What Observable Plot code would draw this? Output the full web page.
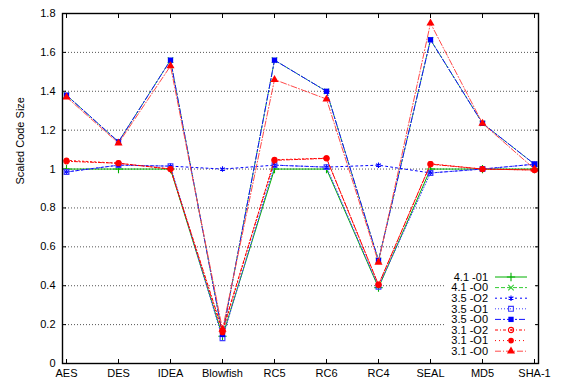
<!DOCTYPE html>
<html>
<head>
<meta charset="utf-8">
<script src="https://cdn.jsdelivr.net/npm/d3@7"></script>
<script src="https://cdn.jsdelivr.net/npm/@observablehq/plot@0.6"></script>
<style>
  html, body { margin: 0; padding: 0; background: white; }
  svg { display: block; }
</style>
</head>
<body>
<div id="chart"></div>
<script>
const categories = ["AES", "DES", "IDEA", "Blowfish", "RC5", "RC6", "RC4", "SEAL", "MD5", "SHA-1"];
const yTicks = [0, 0.2, 0.4, 0.6, 0.8, 1, 1.2, 1.4, 1.6, 1.8];
const seriesNames = ["4.1 -01", "4.1 -O0", "3.5 -O2", "3.5 -O1", "3.5 -O0", "3.1 -O2", "3.1 -O1", "3.1 -O0"];

const gcc41_O1 = [1.00, 1.00, 1.00, 0.14, 1.00, 1.00, 0.39, 1.00, 1.00, 1.00];
const gcc41_O0 = [1.38, 1.14, 1.56, 0.15, 1.56, 1.40, 0.53, 1.665, 1.235, 1.025];
const gcc35_O2 = [0.985, 1.02, 1.015, 1.00, 1.02, 1.01, 1.02, 0.98, 1.00, 1.025];
const gcc35_O1 = [0.985, 1.02, 1.015, 0.13, 1.02, 1.01, 0.395, 0.98, 1.00, 1.025];
const gcc35_O0 = [1.38, 1.14, 1.56, 0.15, 1.56, 1.40, 0.53, 1.665, 1.235, 1.025];
const gcc31_O2 = [1.04, 1.03, 1.00, 0.17, 1.045, 1.055, 0.405, 1.025, 1.00, 0.995];
const gcc31_O1 = [1.045, 1.03, 1.00, 0.16, 1.048, 1.056, 0.405, 1.027, 1.00, 0.995];
const gcc31_O0 = [1.37, 1.133, 1.53, 0.175, 1.46, 1.36, 0.52, 1.75, 1.235, 1.00];

const seriesValues = [gcc41_O1, gcc41_O0, gcc35_O2, gcc35_O1, gcc35_O0, gcc31_O2, gcc31_O1, gcc31_O0];

const styles = [
  {color: "#00b000", dash: null, symbol: "plus", fill: "none", r: 2.8},
  {color: "#33cc33", dash: "4,2", symbol: "times", fill: "none", r: 2.6},
  {color: "#0000ff", dash: "2,3", symbol: "asterisk", fill: "none", r: 2.6},
  {color: "#3d3dff", dash: "1,2", symbol: "square", fill: "none", r: 2.7},
  {color: "#1010ff", dash: "6,2,2,2", symbol: "square", fill: "#0000ff", r: 3.0},
  {color: "#ff0000", dash: "3,2,1,2", symbol: "circle", fill: "none", r: 2.6, dotInside: true},
  {color: "#ff0000", dash: "1,3", symbol: "circle", fill: "#ff0000", r: 2.9},
  {color: "#ff4a4a", dash: "6,2,1,2", symbol: "triangle", fill: "#ff0000", r: 3.0}
];

const fmt = d => String(Math.round(d * 10) / 10);

const marks = [
  Plot.ruleY(yTicks.filter(d => d > 0 && d < 1.8), {stroke: "#555", strokeDasharray: "1,2", strokeWidth: 1}),
  Plot.axisY(yTicks, {anchor: "left", tickSize: 0, tickPadding: 7, tickFormat: fmt, fontSize: 11, label: null}),
  Plot.axisY(yTicks, {anchor: "left", tickSize: -4, tickFormat: () => "", label: null}),
  Plot.axisY(yTicks, {anchor: "right", tickSize: -4, tickFormat: () => "", label: null}),
  Plot.axisX(categories, {anchor: "bottom", tickSize: 0, tickPadding: 6, fontSize: 11, label: null}),
  Plot.axisX(categories, {anchor: "bottom", tickSize: -4, tickFormat: () => "", label: null}),
  Plot.axisX(categories, {anchor: "top", tickSize: -4, tickFormat: () => "", label: null}),
  Plot.text(["Scaled Code Size"], {frameAnchor: "left", rotate: -90, dx: -42, dy: -4, fontSize: 11})
];

seriesValues.forEach((vals, i) => {
  const s = styles[i];
  const data = categories.map((c, j) => ({cat: c, v: vals[j]}));
  marks.push(Plot.line(data, {x: "cat", y: "v", stroke: s.color, strokeWidth: 1, strokeDasharray: s.dash}));
  if (s.fill === "none") {
    marks.push(Plot.dot(data, {x: "cat", y: "v", symbol: s.symbol, r: s.r, stroke: s.color, fill: "none", strokeWidth: 1.1}));
  } else {
    marks.push(Plot.dot(data, {x: "cat", y: "v", symbol: s.symbol, r: s.r, fill: s.fill, stroke: "none"}));
  }
  if (s.dotInside) {
    marks.push(Plot.dot(data, {x: "cat", y: "v", r: 0.9, fill: s.color}));
  }
});

marks.push(Plot.frame({stroke: "black", strokeWidth: 1.4}));

const chart = Plot.plot({
  width: 562,
  height: 381,
  marginLeft: 62,
  marginRight: 24,
  marginTop: 13,
  marginBottom: 18,
  style: {fontFamily: "'Liberation Sans', Arial, sans-serif", fontSize: "11px", background: "white", color: "black"},
  x: {type: "point", domain: categories, padding: 0, axis: null, label: null},
  y: {domain: [0, 1.8], axis: null, label: null},
  marks
});

document.getElementById("chart").appendChild(chart);

// legend inside plot area (bottom right)
const svg = d3.select(chart);
const lg = svg.append("g").attr("font-family", "'Liberation Sans', Arial, sans-serif").attr("font-size", 11);
lg.append("rect").attr("x", 446).attr("y", 271).attr("width", 88).attr("height", 87).attr("fill", "white");
const symMap = {plus: d3.symbolPlus, times: d3.symbolTimes, asterisk: d3.symbolAsterisk, square: d3.symbolSquare, circle: d3.symbolCircle, triangle: d3.symbolTriangle};
seriesNames.forEach((name, i) => {
  const s = styles[i];
  const y = 277 + i * 10.6;
  lg.append("text").attr("x", 488).attr("y", y).attr("dy", "0.35em").attr("text-anchor", "end").attr("fill", "black").text(name);
  lg.append("line").attr("x1", 495).attr("x2", 527).attr("y1", y).attr("y2", y)
    .attr("stroke", s.color).attr("stroke-width", 1).attr("stroke-dasharray", s.dash);
  const path = d3.symbol(symMap[s.symbol], Math.PI * s.r * s.r)();
  const m = lg.append("path").attr("d", path).attr("transform", `translate(511,${y})`);
  if (s.fill === "none") m.attr("fill", "none").attr("stroke", s.color).attr("stroke-width", 1.1);
  else m.attr("fill", s.fill);
  if (s.dotInside) lg.append("circle").attr("cx", 511).attr("cy", y).attr("r", 0.9).attr("fill", s.color);
});
</script>
</body>
</html>
